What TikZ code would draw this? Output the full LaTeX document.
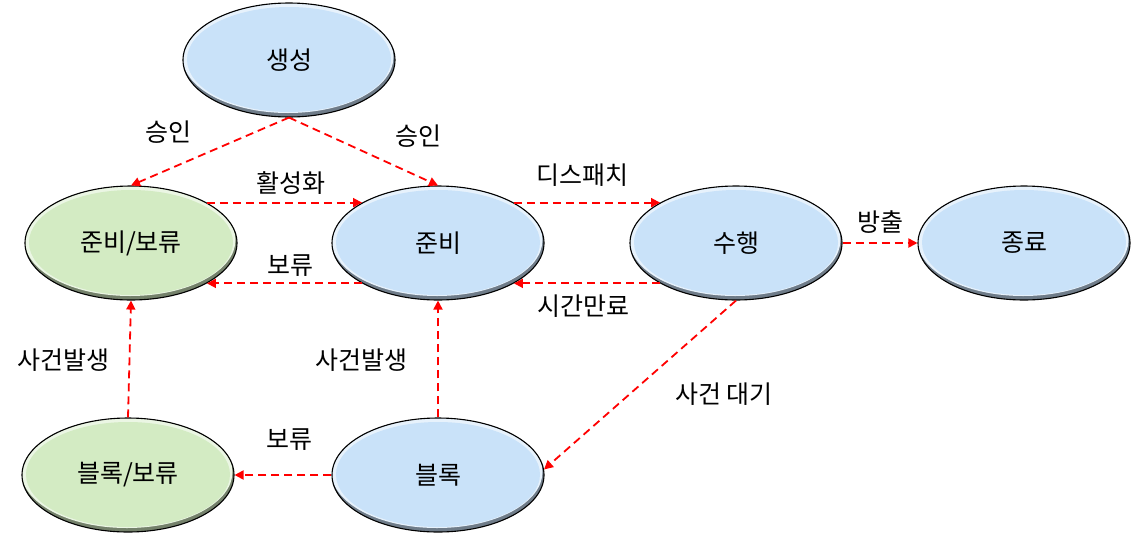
\documentclass[tikz,border=0pt]{standalone}
\usepackage{fontspec}
\setmainfont{Noto Sans CJK KR}
\usetikzlibrary{shapes.geometric,arrows.meta}
\definecolor{stblue}{HTML}{C9E2F9}
\definecolor{stgreen}{HTML}{D3EBC3}
\definecolor{arrred}{HTML}{FF0000}
\begin{document}
\begin{tikzpicture}[x=1pt,y=-1pt,
  state/.style={ellipse,draw=black,line width=1.1pt,minimum width=212pt,minimum height=114pt,inner sep=0pt,
    font=\fontsize{25}{30}\selectfont,
    path picture={
      \fill[#1!55!black] (path picture bounding box.south west) rectangle (path picture bounding box.north east);
      \fill[#1!45!white] ([yshift=3pt,xshift=-1pt]path picture bounding box.center) ellipse [x radius=105.5pt,y radius=56pt];
      \fill[#1] ([yshift=0.5pt]path picture bounding box.center) ellipse [x radius=102pt,y radius=52.5pt];
    }},
  bstate/.style={state=stblue},
  gstate/.style={state=stgreen},
  trans/.style={draw=arrred,line width=1.8pt,dash pattern=on 8pt off 5pt,
    -{Triangle[length=9pt,width=9pt]}},
  lbl/.style={font=\fontsize{25}{30}\selectfont,inner sep=0pt}]
\useasboundingbox (0,0) rectangle (1134,536);
\node[bstate] (gen) at (289,60) {생성};
\node[gstate] (rb) at (131,243) {준비/보류};
\node[bstate] (r) at (438,243) {준비};
\node[bstate] (run) at (736,243) {수행};
\node[bstate] (end) at (1024,243) {종료};
\node[gstate] (bb) at (128,475) {블록/보류};
\node[bstate] (b) at (438,475) {블록};

\draw[trans] (gen.south) -- (rb.north);
\draw[trans] (gen.south) -- (r.north);
\draw[trans] (rb.28) -- (r.152);
\draw[trans] (r.28) -- (run.152);
\draw[trans] (r.208) -- (rb.332);
\draw[trans] (run.208) -- (r.332);
\draw[trans] (run.east) -- (end.west);
\draw[trans] (run.south) -- (b.3);
\draw[trans] (b.north) -- (r.south);
\draw[trans] (bb.north) -- (rb.south);
\draw[trans] (b.west) -- (bb.east);

\node[lbl] (l1) at (168,132) {승인};
\node[lbl] (l2) at (418,136) {승인};
\node[lbl] (l3) at (291,183) {활성화};
\node[lbl] (l4) at (582,175) {디스패치};
\node[lbl] (l5) at (290,266) {보류};
\node[lbl] (l6) at (583,306) {시간만료};
\node[lbl] (l7) at (880,222) {방출};
\node[lbl] (l8) at (724,394) {사건 대기};
\node[lbl] (l9) at (361,360) {사건발생};
\node[lbl] (l10) at (63,360) {사건발생};
\node[lbl] (l11) at (289,440) {보류};
\end{tikzpicture}
\end{document}
